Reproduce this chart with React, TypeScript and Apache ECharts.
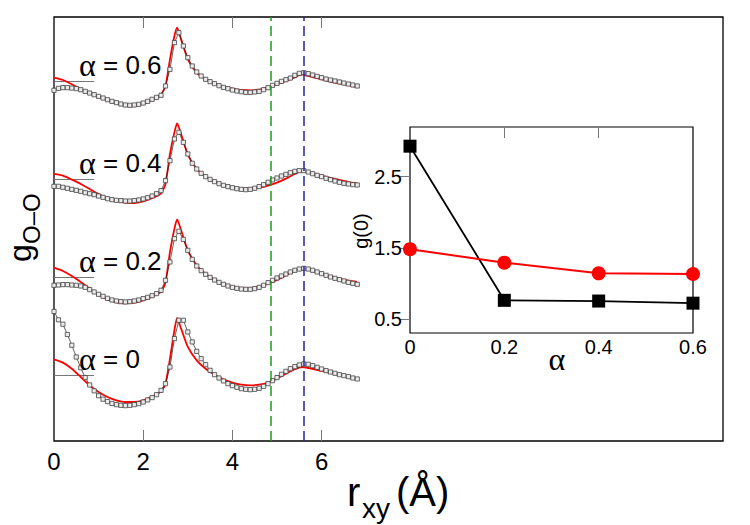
import React, { useEffect, useRef } from "react";
import * as echarts from "echarts";

// Sampled r grid (Å) of the simulated g_O-O curves
const rSim = [
  0, 0.1, 0.2, 0.3, 0.4, 0.5, 0.6, 0.7, 0.8, 0.9,
  1.0, 1.1, 1.2, 1.3, 1.4, 1.5, 1.6, 1.7, 1.8, 1.9,
  2.0, 2.1, 2.2, 2.3, 2.4, 2.5, 2.6, 2.7, 2.8, 2.9,
  3.0, 3.1, 3.2, 3.3, 3.4, 3.5, 3.6, 3.7, 3.8, 3.9,
  4.0, 4.1, 4.2, 4.3, 4.4, 4.5, 4.6, 4.7, 4.8, 4.9,
  5.0, 5.1, 5.2, 5.3, 5.4, 5.5, 5.6, 5.7, 5.8, 5.9,
  6.0, 6.1, 6.2, 6.3, 6.4, 6.5, 6.6, 6.7, 6.8,
];

// Simulated g(r) for alpha = 0, 0.2, 0.4, 0.6 (open squares)
const gSimA00 = [
  1.655, 1.570, 1.525, 1.420, 1.310, 1.190, 1.080, 0.980, 0.905, 0.845,
  0.795, 0.760, 0.735, 0.716, 0.704, 0.697, 0.694, 0.697, 0.704, 0.714,
  0.731, 0.752, 0.776, 0.806, 0.850, 0.918, 1.088, 1.378, 1.565, 1.565,
  1.446, 1.344, 1.248, 1.173, 1.112, 1.054, 1.010, 0.976, 0.946, 0.918,
  0.898, 0.881, 0.867, 0.861, 0.857, 0.861, 0.871, 0.891, 0.918, 0.949,
  0.980, 1.014, 1.044, 1.071, 1.092, 1.109, 1.119, 1.116, 1.102, 1.085,
  1.068, 1.051, 1.037, 1.024, 1.010, 1.000, 0.990, 0.976, 0.966,
];
const gSimA02 = [
  0.922, 0.925, 0.929, 0.929, 0.925, 0.922, 0.915, 0.901, 0.878, 0.854,
  0.830, 0.810, 0.789, 0.772, 0.762, 0.755, 0.752, 0.755, 0.762, 0.772,
  0.786, 0.799, 0.816, 0.837, 0.871, 0.973, 1.160, 1.398, 1.473, 1.391,
  1.279, 1.187, 1.119, 1.071, 1.034, 1.003, 0.976, 0.952, 0.932, 0.915,
  0.901, 0.891, 0.884, 0.881, 0.881, 0.888, 0.901, 0.922, 0.949, 0.973,
  0.997, 1.017, 1.037, 1.058, 1.075, 1.088, 1.095, 1.088, 1.075, 1.058,
  1.041, 1.024, 1.007, 0.993, 0.980, 0.966, 0.952, 0.942, 0.932,
];
const gSimA04 = [
  0.932, 0.932, 0.922, 0.912, 0.901, 0.891, 0.881, 0.867, 0.857, 0.847,
  0.833, 0.820, 0.806, 0.796, 0.789, 0.786, 0.782, 0.782, 0.786, 0.793,
  0.803, 0.816, 0.833, 0.857, 0.888, 0.990, 1.194, 1.415, 1.483, 1.381,
  1.262, 1.167, 1.109, 1.065, 1.031, 1.003, 0.980, 0.959, 0.942, 0.929,
  0.918, 0.908, 0.901, 0.898, 0.901, 0.912, 0.929, 0.949, 0.973, 0.997,
  1.017, 1.037, 1.054, 1.071, 1.085, 1.092, 1.092, 1.078, 1.061, 1.044,
  1.031, 1.014, 1.000, 0.986, 0.973, 0.963, 0.956, 0.949, 0.946,
];
const gSimA06 = [
  0.912, 0.932, 0.939, 0.939, 0.935, 0.929, 0.918, 0.901, 0.884, 0.867,
  0.850, 0.833, 0.816, 0.799, 0.786, 0.772, 0.762, 0.759, 0.762, 0.769,
  0.782, 0.799, 0.820, 0.840, 0.861, 0.956, 1.126, 1.398, 1.500, 1.364,
  1.245, 1.160, 1.099, 1.058, 1.024, 1.000, 0.980, 0.959, 0.942, 0.929,
  0.915, 0.905, 0.898, 0.891, 0.891, 0.895, 0.901, 0.918, 0.939, 0.963,
  0.983, 1.003, 1.020, 1.037, 1.065, 1.085, 1.092, 1.082, 1.068, 1.054,
  1.041, 1.027, 1.017, 1.007, 0.997, 0.986, 0.976, 0.966, 0.956,
];

// Model curves (red lines)
const rFit = [
  0, 0.2, 0.4, 0.6, 0.8, 1.0, 1.2, 1.4, 1.6, 1.8, 2.0, 2.2, 2.4, 2.5, 2.6,
  2.7, 2.76, 2.85, 3.0, 3.2, 3.4, 3.6, 3.8, 4.0, 4.2, 4.4, 4.6, 4.8, 5.0,
  5.2, 5.4, 5.55, 5.7, 6.0, 6.3, 6.6, 6.8,
];
const gFitA00 = [
  1.167, 1.133, 1.071, 0.986, 0.901, 0.833, 0.782, 0.748, 0.731, 0.731,
  0.748, 0.786, 0.840, 0.918, 1.173, 1.463, 1.588, 1.480, 1.293, 1.156,
  1.071, 1.010, 0.963, 0.929, 0.908, 0.901, 0.908, 0.929, 0.969, 1.020,
  1.065, 1.088, 1.078, 1.048, 1.017, 0.990, 0.969,
];
const gFitA02 = [
  1.102, 1.068, 1.017, 0.956, 0.888, 0.827, 0.779, 0.748, 0.738, 0.745,
  0.769, 0.806, 0.854, 0.950, 1.262, 1.500, 1.595, 1.483, 1.279, 1.126,
  1.037, 0.980, 0.935, 0.908, 0.891, 0.891, 0.908, 0.939, 0.976, 1.024,
  1.068, 1.092, 1.082, 1.041, 1.003, 0.969, 0.956,
];
const gFitA04 = [
  1.058, 1.041, 1.000, 0.956, 0.905, 0.854, 0.813, 0.786, 0.765, 0.762,
  0.779, 0.810, 0.861, 0.956, 1.262, 1.483, 1.575, 1.466, 1.255, 1.109,
  1.031, 0.980, 0.946, 0.922, 0.908, 0.908, 0.918, 0.939, 0.969, 1.010,
  1.058, 1.085, 1.075, 1.041, 1.007, 0.976, 0.963,
];
const gFitA06 = [
  1.041, 1.017, 0.973, 0.922, 0.881, 0.847, 0.810, 0.779, 0.759, 0.755,
  0.776, 0.813, 0.871, 0.956, 1.228, 1.466, 1.551, 1.432, 1.228, 1.092,
  1.024, 0.980, 0.949, 0.929, 0.915, 0.912, 0.918, 0.942, 0.973, 1.007,
  1.044, 1.075, 1.058, 1.024, 0.990, 0.966, 0.946,
];

const alphaNames = ["0", "0.2", "0.4", "0.6"];
const curveOffsets = [0, 1, 2, 3];
const simCurves = [gSimA00, gSimA02, gSimA04, gSimA06];
const fitCurves = [gFitA00, gFitA02, gFitA04, gFitA06];

const xLabelValues = [0, 2, 4, 6];
const xTickValues = [2, 4, 6];
const baselineTicks = [1, 2, 3, 4];
const shellLines = [
  { r: 4.85, color: "#1f9a1f" },
  { r: 5.6, color: "#2626a0" },
];

// Inset: g(0) versus alpha
const insetAlpha = [0, 0.2, 0.4, 0.6];
const insetSim = [2.93, 0.76, 0.75, 0.72];
const insetFit = [1.48, 1.29, 1.14, 1.13];
const insetYTicks = [0.5, 1.5, 2.5];
const insetXTicks = [0.2, 0.4];

const SANS = "'Liberation Sans', Arial, Helvetica, sans-serif";
const SERIF = "'Liberation Serif', 'Times New Roman', serif";

export default function App() {
  const ref = useRef<HTMLDivElement>(null);

  useEffect(() => {
    if (!ref.current) return;
    const chart = echarts.init(ref.current, undefined, { renderer: "svg" });

    const series: any[] = [];
    alphaNames.forEach((_, k) => {
      const off = curveOffsets[k];
      series.push({
        type: "line",
        xAxisIndex: 0,
        yAxisIndex: 0,
        data: rFit.map((r, i) => [r, fitCurves[k][i] + off]),
        showSymbol: false,
        symbol: "none",
        smooth: 0.2,
        lineStyle: { color: "#ff0000", width: 1.8 },
        z: 2,
      });
    });
    alphaNames.forEach((_, k) => {
      const off = curveOffsets[k];
      const s: any = {
        type: "line",
        xAxisIndex: 0,
        yAxisIndex: 0,
        data: rSim.map((r, i) => [r, simCurves[k][i] + off]),
        symbol: "rect",
        symbolSize: 4.2,
        showSymbol: true,
        showAllSymbol: true,
        lineStyle: { color: "#222", width: 0.7 },
        itemStyle: { color: "#ececec", borderColor: "#444", borderWidth: 0.8 },
        z: 3,
      };
      if (k === 0) {
        s.markLine = {
          silent: true,
          symbol: ["none", "none"],
          label: { show: false },
          lineStyle: { type: [10, 5], width: 1.5 },
          data: shellLines.map((l) => ({
            xAxis: l.r,
            lineStyle: { color: l.color, type: [10, 5], width: 1.5 },
          })),
        };
      }
      series.push(s);
    });

    series.push({
      type: "line",
      xAxisIndex: 2,
      yAxisIndex: 2,
      data: insetAlpha.map((a, i) => [a, insetSim[i]]),
      symbol: "rect",
      symbolSize: 13,
      lineStyle: { color: "#000", width: 1.8 },
      itemStyle: { color: "#000" },
      clip: false,
      z: 5,
    });
    series.push({
      type: "line",
      xAxisIndex: 2,
      yAxisIndex: 2,
      data: insetAlpha.map((a, i) => [a, insetFit[i]]),
      symbol: "circle",
      symbolSize: 14,
      lineStyle: { color: "#ff0000", width: 2 },
      itemStyle: { color: "#ff0000" },
      clip: false,
      z: 5,
    });

    const labelTexts = alphaNames.map((name, k) => ({
      type: "text",
      z: 10,
      style: {
        text: "{a|α} = " + name,
        x: 79,
        y: 359 - 98 * curveOffsets[k],
        fontSize: 26,
        fontFamily: SANS,
        fill: "#000",
        align: "left",
        verticalAlign: "middle",
        rich: { a: { fontFamily: SERIF, fontSize: 32, fill: "#000" } },
      },
    }));

    const tickLine = { color: "#777", width: 1 };

    chart.setOption({
      animation: false,
      backgroundColor: "#ffffff",
      grid: [
        {
          left: 54,
          top: 17,
          right: 27,
          bottom: 84,
          show: true,
          borderColor: "#000",
          borderWidth: 1.3,
          backgroundColor: "transparent",
        },
        {
          left: 410,
          top: 127,
          width: 283,
          height: 206,
          show: true,
          borderColor: "#000",
          borderWidth: 1.2,
          backgroundColor: "#fff",
          z: 4,
        },
      ],
      xAxis: [
        {
          gridIndex: 0,
          type: "value",
          min: 0,
          max: 15,
          position: "bottom",
          axisLine: { show: false },
          splitLine: { show: false },
          axisTick: {
            show: true,
            inside: true,
            length: 11,
            customValues: xTickValues,
            lineStyle: tickLine,
          },
          axisLabel: {
            customValues: xLabelValues,
            fontSize: 24,
            fontFamily: SANS,
            color: "#000",
            margin: 8,
          },
        },
        {
          gridIndex: 0,
          type: "value",
          min: 0,
          max: 15,
          position: "top",
          axisLine: { show: false },
          splitLine: { show: false },
          axisTick: {
            show: true,
            inside: true,
            length: 11,
            customValues: xTickValues,
            lineStyle: tickLine,
          },
          axisLabel: { show: false },
        },
        {
          gridIndex: 1,
          type: "value",
          min: 0,
          max: 0.6,
          interval: 0.2,
          position: "bottom",
          axisLine: { show: false },
          splitLine: { show: false },
          axisTick: { show: false },
          axisLabel: {
            fontSize: 20,
            fontFamily: SANS,
            color: "#000",
            margin: 4,
          },
          z: 5,
        },
        {
          gridIndex: 1,
          type: "value",
          min: 0,
          max: 0.6,
          position: "top",
          axisLine: { show: false },
          splitLine: { show: false },
          axisTick: {
            show: true,
            inside: true,
            length: 11,
            customValues: insetXTicks,
            lineStyle: tickLine,
          },
          axisLabel: { show: false },
          z: 5,
        },
      ],
      yAxis: [
        {
          gridIndex: 0,
          type: "value",
          min: 0.333,
          max: 4.66,
          axisLine: { show: false },
          splitLine: { show: false },
          axisTick: {
            show: true,
            inside: true,
            length: 40,
            customValues: baselineTicks,
            lineStyle: tickLine,
          },
          axisLabel: { show: false },
        },
        {
          gridIndex: 0,
          type: "value",
          min: 0.333,
          max: 4.66,
          position: "right",
          show: false,
        },
        {
          gridIndex: 1,
          type: "value",
          min: 0.3,
          max: 3.2,
          axisLine: { show: false },
          splitLine: { show: false },
          axisTick: { show: false },
          axisLabel: {
            customValues: insetYTicks,
            fontSize: 20,
            fontFamily: SANS,
            color: "#000",
            margin: 8,
          },
          z: 5,
        },
        {
          gridIndex: 1,
          type: "value",
          min: 0.3,
          max: 3.2,
          position: "right",
          axisLine: { show: false },
          splitLine: { show: false },
          axisTick: {
            show: true,
            inside: true,
            length: 11,
            customValues: insetYTicks,
            lineStyle: tickLine,
          },
          axisLabel: { show: false },
          z: 5,
        },
      ],
      series,
      graphic: [
        ...labelTexts,
        // x-axis title: r_xy (Å)
        {
          type: "text",
          style: {
            text: "r",
            x: 347,
            y: 492,
            fontSize: 40,
            fontFamily: SANS,
            fill: "#000",
            align: "left",
            verticalAlign: "middle",
          },
        },
        {
          type: "text",
          style: {
            text: "xy",
            x: 362,
            y: 508,
            fontSize: 28,
            fontFamily: SANS,
            fill: "#000",
            align: "left",
            verticalAlign: "middle",
          },
        },
        {
          type: "text",
          style: {
            text: "(Å)",
            x: 396,
            y: 492,
            fontSize: 40,
            fontFamily: SANS,
            fill: "#000",
            align: "left",
            verticalAlign: "middle",
          },
        },
        // y-axis title: g_O-O
        {
          type: "group",
          x: 30,
          y: 262,
          rotation: Math.PI / 2,
          children: [
            {
              type: "text",
              x: 0,
              y: -10,
              style: {
                text: "g",
                fontSize: 32,
                fontFamily: SANS,
                fill: "#000",
                align: "left",
                verticalAlign: "middle",
              },
            },
            {
              type: "text",
              x: 18,
              y: 1,
              style: {
                text: "O–O",
                fontSize: 24,
                fontFamily: SANS,
                fill: "#000",
                align: "left",
                verticalAlign: "middle",
              },
            },
          ],
        },
        // inset titles
        {
          type: "text",
          x: 361,
          y: 231,
          rotation: Math.PI / 2,
          z: 10,
          style: {
            text: "g(0)",
            fontSize: 20,
            fontFamily: SANS,
            fill: "#000",
            align: "center",
            verticalAlign: "middle",
          },
        },
        {
          type: "text",
          z: 10,
          style: {
            text: "α",
            x: 557,
            y: 359,
            fontSize: 32,
            fontFamily: SERIF,
            fill: "#000",
            align: "center",
            verticalAlign: "middle",
          },
        },
      ],
    });

    return () => chart.dispose();
  }, []);

  return (
    <div
      ref={ref}
      style={{ position: "fixed", left: 0, top: 0, width: 750, height: 525 }}
    />
  );
}
